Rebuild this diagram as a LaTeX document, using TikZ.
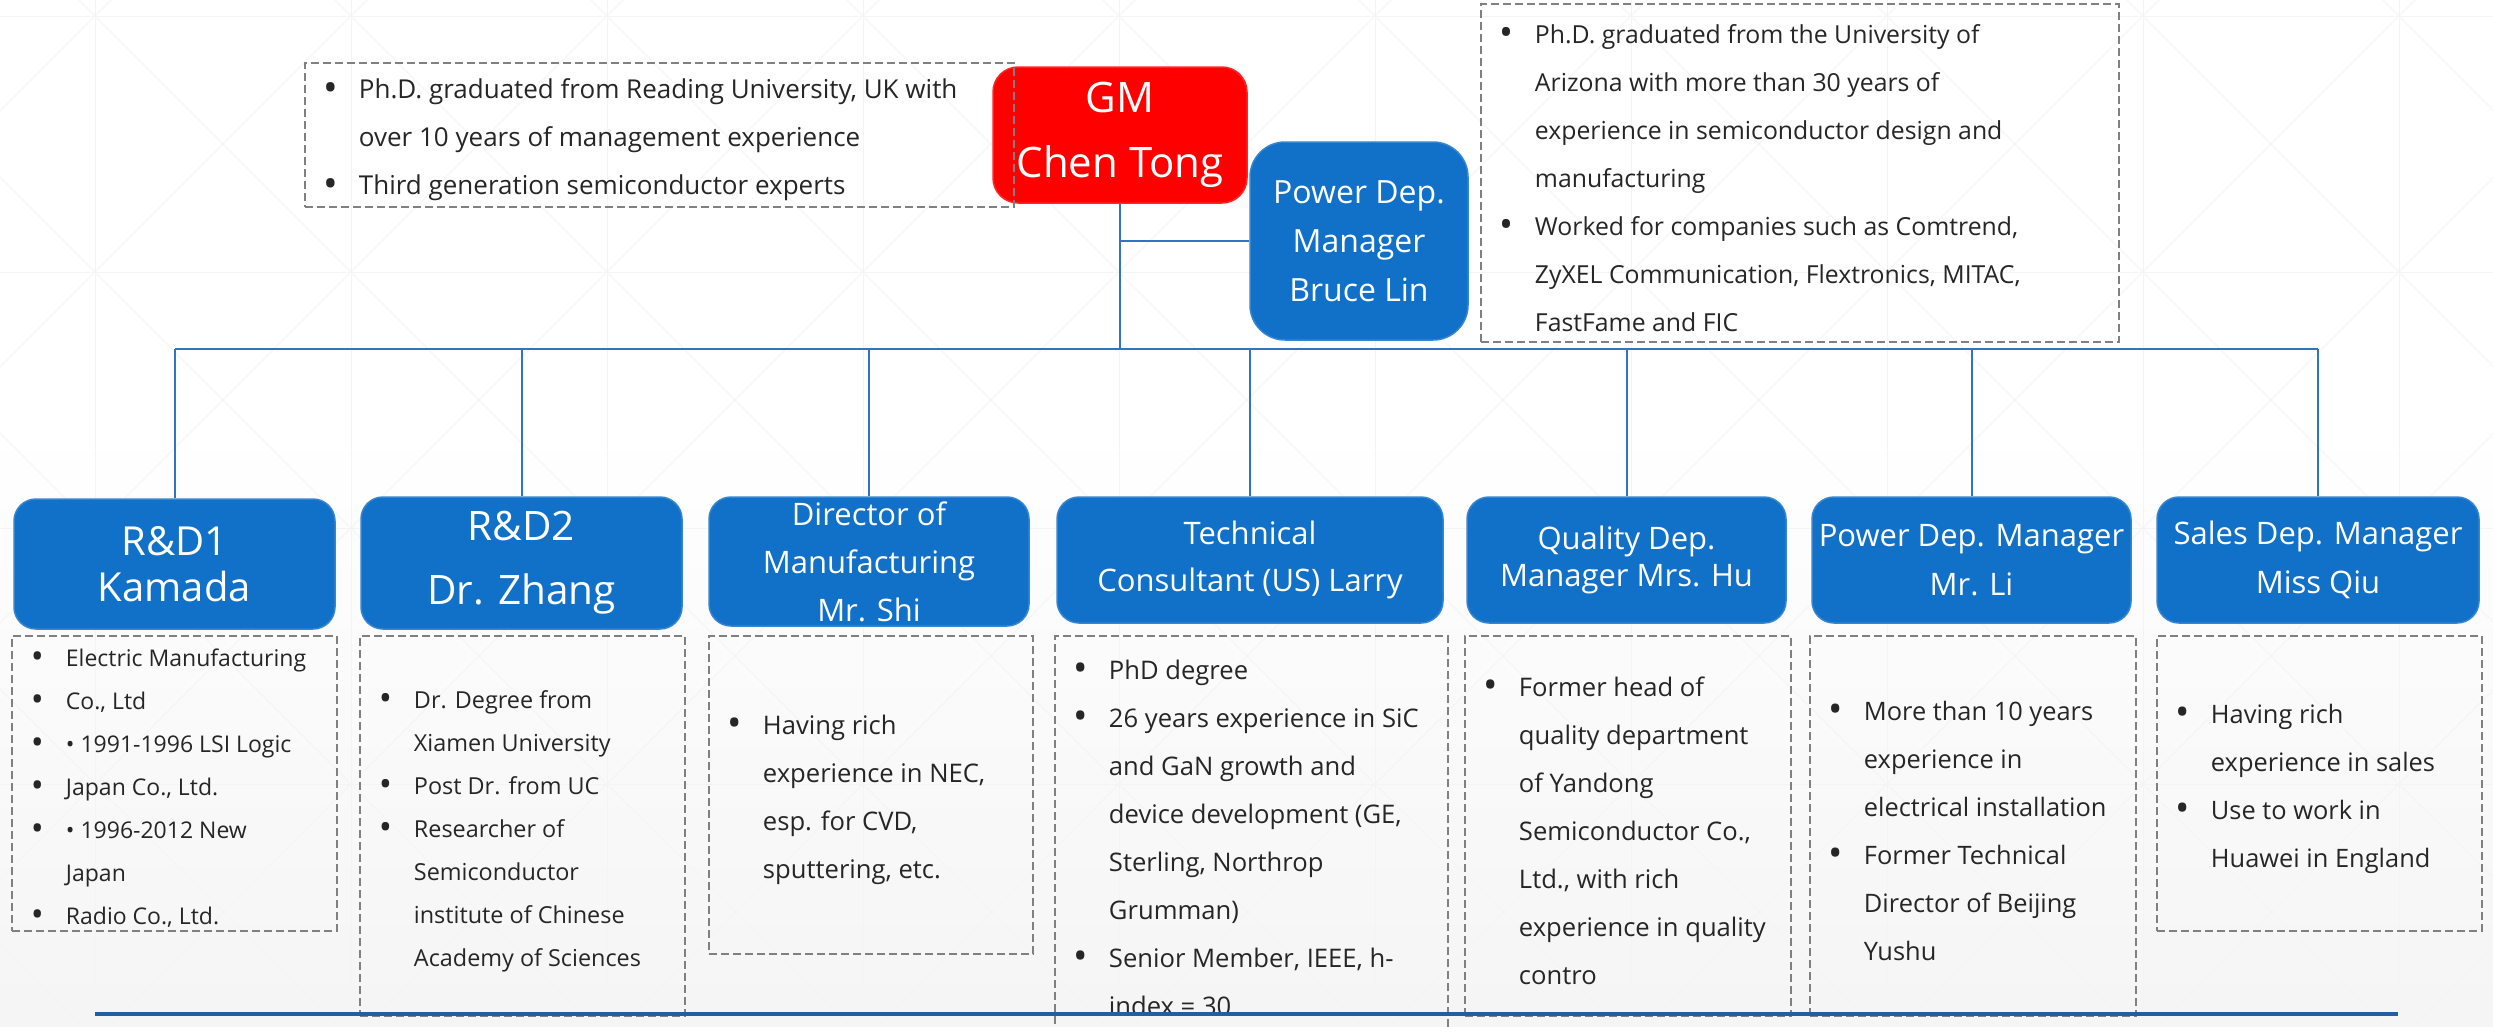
\documentclass[tikz,border=0pt]{standalone}
\usepackage{fontspec}
\setmainfont{Open Sans}
\usetikzlibrary{positioning}
\definecolor{boxblue}{RGB}{17,112,200}
\definecolor{gmred}{RGB}{255,0,0}
\definecolor{linkblue}{RGB}{46,117,198}
\definecolor{baseblue}{RGB}{36,94,160}
\definecolor{notegray}{RGB}{128,128,128}
\definecolor{gridgray}{RGB}{244,244,244}

\newcommand\bul{\makebox[35pt][l]{\raisebox{-0.09em}{\scalebox{1.5}{\textbullet}}}}
\newcommand\ind{\hspace*{35pt}}
\newcommand\hfont[2]{\fontsize{#1}{#2}\selectfont}

\tikzset{
  head/.style={rounded corners=22pt, fill=boxblue, draw=boxblue!85!white, line width=1.5pt,
    text=white, align=center, inner sep=0pt},
  note/.style={draw=notegray, dash pattern=on 8pt off 4pt, line width=2.5pt, inner sep=0pt},
  notetext/.style={align=left, inner sep=0pt, text=black!85},
  link/.style={draw=linkblue, line width=2pt},
  gridline/.style={draw=gridgray, line width=1pt}
}

\begin{document}
\begin{tikzpicture}[x=1pt, y=-1pt]
    \useasboundingbox (0,0) rectangle (2493,1026);
    % Background
    \fill[white] (0,0) rectangle (2493,1026);
    \shade[top color=white, bottom color=black!4] (0,420) rectangle (2493,1026);
    \begin{scope}
        \clip (0,0) rectangle (2493,1026);
        \foreach \gx in {-161,95,...,2600} \draw[gridline] (\gx,0) -- (\gx,1026);
        \foreach \gy in {16,272,528,784} \draw[gridline] (0,\gy) -- (2493,\gy);
        \foreach \c in {-1201,-945,...,2400} \draw[gridline] (\c,0) -- ++(1026,1026);
        \foreach \c in {111,367,...,3500} \draw[gridline] (\c,0) -- ++(-1026,1026);
    \end{scope}

    % GM and Power Dep. manager
    \node[head, fill=gmred, draw=gmred!85!white, rounded corners=25pt, minimum width=254pt, minimum height=136pt,
      font=\hfont{42}{65}] (gm) at (1120,135) {GM\\Chen Tong};
    \node[head, rounded corners=35pt, minimum width=218pt, minimum height=198pt,
      font=\hfont{32}{49}] (bruce) at (1359,241) {Power Dep.\\Manager\\Bruce Lin};

    % Notes of the top row
    \node[note, minimum width=709pt, minimum height=144pt] (gmnote) at (659.5,135) {};
    \node[notetext, font=\hfont{26}{48}, right=20pt of gmnote.west, yshift=-5pt] (gmtext) {%
        \bul Ph.D. graduated from Reading University, UK with\\
        \ind over 10 years of management experience\\
        \bul Third generation semiconductor experts};
    \node[note, minimum width=638pt, minimum height=338pt] (brucenote) at (1800,173) {};
    \node[notetext, font=\hfont{24.8}{48}, right=20pt of brucenote.west, yshift=-5pt] (brucetext) {%
        \bul Ph.D. graduated from the University of\\
        \ind Arizona with more than 30 years of\\
        \ind experience in semiconductor design and\\
        \ind manufacturing\\
        \bul Worked for companies such as Comtrend,\\
        \ind ZyXEL Communication, Flextronics, MITAC,\\
        \ind FastFame and FIC};

    % Department heads
    \node[head, minimum width=321pt, minimum height=130pt, font=\hfont{40}{46}] (rd1) at (174.5,564) {R\&D1\\Kamada};
    \node[head, minimum width=321pt, minimum height=132pt, font=\hfont{40.5}{64}] (rd2) at (521.5,563) {R\&D2\\Dr. Zhang};
    \node[head, minimum width=320pt, minimum height=129pt, font=\hfont{31}{48}] (dir) at (869,561.5) {Director of\\Manufacturing\\Mr. Shi};
    \node[head, minimum width=386pt, minimum height=126pt, font=\hfont{31}{47}] (tech) at (1250,560) {Technical\\Consultant (US) Larry};
    \node[head, minimum width=319pt, minimum height=126pt, font=\hfont{31}{37}] (qual) at (1626.5,560) {Quality Dep.\\Manager Mrs. Hu};
    \node[head, minimum width=319pt, minimum height=126pt, font=\hfont{31}{49}] (pwr) at (1971.5,560) {Power Dep. Manager\\Mr. Li};
    \node[head, minimum width=322pt, minimum height=126pt, font=\hfont{31}{49}] (sales) at (2318,560) {Sales Dep. Manager\\Miss Qiu};

    % Connectors
    \coordinate (bus) at (1120,349);
    \draw[link] (gm.south) -- (gm.south |- bus);
    \draw[link] (gm.south |- bruce.west) -- (bruce.west);
    \draw[link] (rd1.north |- bus) -- (sales.north |- bus);
    \foreach \n in {rd1,rd2,dir,tech,qual,pwr,sales}
        \draw[link] (\n.north |- bus) -- (\n.north);

    % Notes of the departments
    \node[note, minimum width=325pt, minimum height=295pt] (rd1note) at (174.5,783.5) {};
    \node[notetext, font=\hfont{23}{43}, right=20pt of rd1note.west, yshift=-5pt] (rd1text) {%
        \bul Electric Manufacturing\\
        \bul Co., Ltd\\
        \bul • 1991-1996 LSI Logic\\
        \bul Japan Co., Ltd.\\
        \bul • 1996-2012 New\\
        \ind Japan\\
        \bul Radio Co., Ltd.};
    \node[note, minimum width=325pt, minimum height=380pt] (rd2note) at (522.5,826) {};
    \node[notetext, font=\hfont{23.4}{43}, right=20pt of rd2note.west, yshift=-5pt] (rd2text) {%
        \bul Dr. Degree from\\
        \ind Xiamen University\\
        \bul Post Dr. from UC\\
        \bul Researcher of\\
        \ind Semiconductor\\
        \ind institute of Chinese\\
        \ind Academy of Sciences};
    \node[note, minimum width=324pt, minimum height=318pt] (dirnote) at (871,795) {};
    \node[notetext, font=\hfont{25.6}{48}, right=20pt of dirnote.west, yshift=-5pt] (dirtext) {%
        \bul Having rich\\
        \ind experience in NEC,\\
        \ind esp. for CVD,\\
        \ind sputtering, etc.};
    \node[note, minimum width=393pt, minimum height=394pt] (technote) at (1251.5,833) {};
    \node[notetext, font=\hfont{25.6}{48}, right=20pt of technote.west, yshift=-5pt] (techtext) {%
        \bul PhD degree\\
        \bul 26 years experience in SiC\\
        \ind and GaN growth and\\
        \ind device development (GE,\\
        \ind Sterling, Northrop\\
        \ind Grumman)\\
        \bul Senior Member, IEEE, h-\\
        \ind index = 30};
    \node[note, minimum width=326pt, minimum height=380pt] (qualnote) at (1628,826) {};
    \node[notetext, font=\hfont{25.6}{48}, right=20pt of qualnote.west, yshift=-5pt] (qualtext) {%
        \bul Former head of\\
        \ind quality department\\
        \ind of Yandong\\
        \ind Semiconductor Co.,\\
        \ind Ltd., with rich\\
        \ind experience in quality\\
        \ind contro};
    \node[note, minimum width=326pt, minimum height=380pt] (pwrnote) at (1973,826) {};
    \node[notetext, font=\hfont{25.4}{48}, right=20pt of pwrnote.west, yshift=-5pt] (pwrtext) {%
        \bul More than 10 years\\
        \ind experience in\\
        \ind electrical installation\\
        \bul Former Technical\\
        \ind Director of Beijing\\
        \ind Yushu};
    \node[note, minimum width=325pt, minimum height=295pt] (salesnote) at (2319.5,783.5) {};
    \node[notetext, font=\hfont{25.4}{48}, right=20pt of salesnote.west, yshift=-5pt] (salestext) {%
        \bul Having rich\\
        \ind experience in sales\\
        \bul Use to work in\\
        \ind Huawei in England};

    % Base line
    \draw[baseblue, line width=3.5pt] (95,1014) -- (2398,1014);
\end{tikzpicture}
\end{document}
